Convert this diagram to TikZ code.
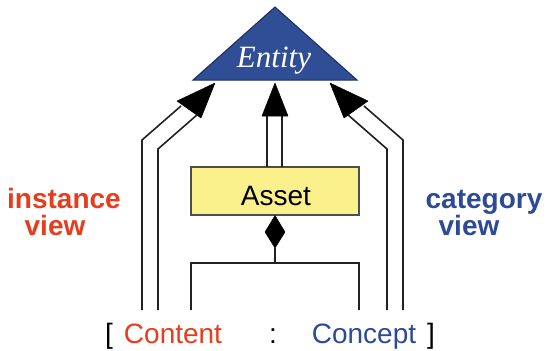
\documentclass[tikz,border=0pt]{standalone}
\usepackage{fontspec}
\setmainfont{Liberation Sans}
\newfontfamily\entfont{Liberation Serif}
\definecolor{redtxt}{HTML}{E63D1F}
\definecolor{bluetxt}{HTML}{2C4A96}
\definecolor{trifill}{HTML}{2F4E96}
\definecolor{triedge}{HTML}{1C2D5C}
\definecolor{assetfill}{HTML}{FAF08C}
\definecolor{linecol}{HTML}{222222}
\tikzset{
  conn/.style={draw=linecol, line width=1.6pt, line join=miter},
  tip/.style={fill=black, draw=black, line width=0.5pt, line join=round},
  lbl/.style={inner sep=0pt, anchor=base, font=\fontsize{28}{28}\selectfont},
  sidelbl/.style={inner sep=0pt, anchor=base, font=\fontsize{28}{28}\selectfont\bfseries},
}
\begin{document}
\begin{tikzpicture}[x=1pt, y=-1pt]
\useasboundingbox (0,0) rectangle (547,351);
% Entity triangle
\coordinate (apex) at (275,7);
\coordinate (tl) at (193,80);
\coordinate (tr) at (357,80);
\filldraw[fill=trifill, draw=triedge, line width=1pt, line join=miter] (apex) -- (tr) -- (tl) -- cycle;
\node[inner sep=0pt, anchor=base, text=white, font=\entfont\itshape\fontsize{31}{31}\selectfont] (entity) at (274,67) {Entity};
% Asset box
\node[draw=linecol!80, line width=1.2pt, fill=assetfill, minimum width=168pt, minimum height=48pt, inner sep=0pt] (asset) at (275,191) {};
\node[lbl] (assettxt) at (276,205) {Asset};
% diamond (composition)
\coordinate (dtop) at (asset.south);
\coordinate (dbot) at (275,248);
\filldraw[tip] (dtop) -- (285,232) -- (dbot) -- (265,232) -- cycle;
% composition fork
\coordinate (fork) at (275,263);
\coordinate (forkl) at (191,263);
\coordinate (forkr) at (359,263);
\coordinate (contentend) at (191,310);
\coordinate (conceptend) at (359,310);
\draw[conn] (dbot) -- (fork);
\draw[conn] (contentend) -- (forkl) -- (forkr) -- (conceptend);
% middle double arrow Asset -> Entity
\coordinate (mtip) at (275,83);
\draw[conn] (267,167) -- (267,115);
\draw[conn] (282,167) -- (282,115);
\filldraw[tip] (mtip) -- (288,116) -- (262,116) -- cycle;
% left double arrow (instance view)
\coordinate (ltip) at (215,83);
\draw[conn] (142,310) -- (142,140) -- (181,106);
\draw[conn] (158,310) -- (158,149) -- (198,114);
\filldraw[tip] (ltip) -- (177,101) -- (201,118) -- cycle;
% right double arrow (category view)
\coordinate (rtip) at (330,83);
\draw[conn] (403,310) -- (403,140) -- (364,106);
\draw[conn] (387,310) -- (387,149) -- (347,114);
\filldraw[tip] (rtip) -- (368,101) -- (344,118) -- cycle;
% bottom labels
\node[lbl] (lbr) at (109,343) {[};
\node[lbl, text=redtxt] (content) at (173,343) {Content};
\node[lbl] (colon) at (273,343) {:};
\node[lbl, text=bluetxt] (concept) at (364,343) {Concept};
\node[lbl] (rbr) at (431,343) {]};
% side labels
\node[sidelbl, text=redtxt] (inst) at (64,208) {instance};
\node[sidelbl, text=redtxt] (instv) at (55,235) {view};
\node[sidelbl, text=bluetxt] (cat) at (484,208) {category};
\node[sidelbl, text=bluetxt] (catv) at (469,235) {view};
\end{tikzpicture}
\end{document}
